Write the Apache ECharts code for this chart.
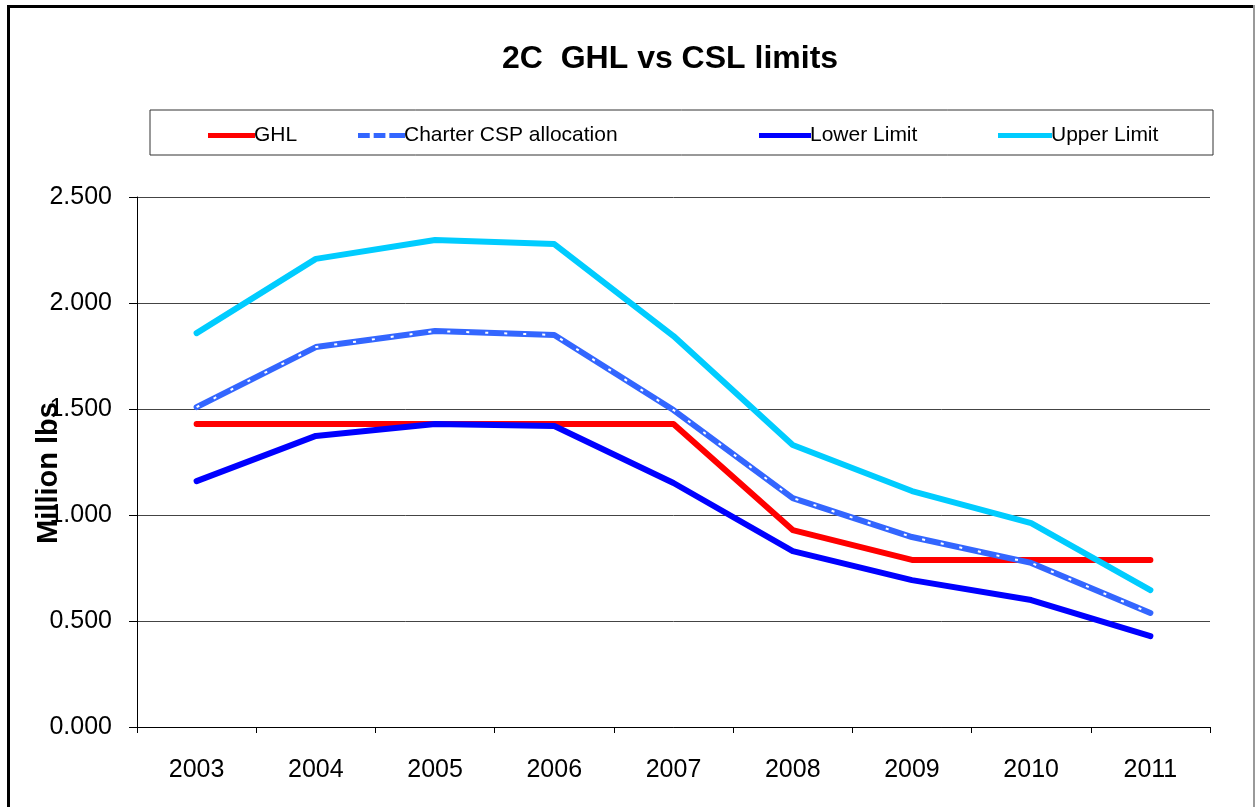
<!DOCTYPE html>
<html>
<head>
<meta charset="utf-8">
<script src="https://cdn.jsdelivr.net/npm/echarts@6/dist/echarts.min.js"></script>
<style>
html,body{margin:0;padding:0;background:#fff;}
#c{width:1255px;height:807px;}
</style>
</head>
<body>
<div id="c"></div>
<script>
const years = ['2003','2004','2005','2006','2007','2008','2009','2010','2011'];
const ghl = [1.429,1.429,1.429,1.429,1.429,0.929,0.788,0.788,0.788];
const charter = [1.509,1.792,1.868,1.849,1.495,1.080,0.896,0.774,0.538];
const lower = [1.160,1.373,1.429,1.420,1.151,0.830,0.693,0.599,0.429];
const upper = [1.858,2.208,2.297,2.278,1.844,1.330,1.113,0.962,0.646];

const chart = echarts.init(document.getElementById('c'));
const font = 'Liberation Sans, Arial, sans-serif';
function leg(name, left, icon, w){
  return {
    data:[name], left:left, top:120, itemWidth:w, itemHeight:5, itemGap:0,
    icon:icon,
    textStyle:{fontFamily:font,fontSize:21,color:'#000',padding:[0,0,0,-6]},
    selectedMode:false
  };
}
const dashIcon = 'path://M0,0h12v5h-12z M16,0h12v5h-12z M32,0h16v5h-16z';
chart.setOption({
  animation:false,
  backgroundColor:'#fff',
  title:{text:'2C  GHL vs CSL limits', left:497, top:38,
    textStyle:{fontFamily:font,fontSize:32,fontWeight:'bold',color:'#000'}},
  graphic:[
    {type:'rect', shape:{x:150,y:110,width:1063,height:45}, style:{fill:'none',stroke:'#333',lineWidth:1}},
    {type:'rect', shape:{x:7,y:5,width:1255,height:3}, style:{fill:'#000'}},
    {type:'rect', shape:{x:7,y:5,width:3,height:810}, style:{fill:'#000'}},
    {type:'rect', shape:{x:1253,y:5,width:2,height:810}, style:{fill:'#999'}}
  ],
  legend:[
    leg('GHL',203,'rect',47),
    leg('Charter CSP allocation',353,dashIcon,47),
    leg('Lower Limit',754,'rect',52),
    leg('Upper Limit',993,'rect',54)
  ],
  grid:{left:137,right:45,top:197,bottom:80,containLabel:false},
  xAxis:{type:'category',data:years,boundaryGap:true,
    axisLine:{lineStyle:{color:'#000',width:1}},
    axisTick:{show:true,length:6,lineStyle:{color:'#000'}},
    axisLabel:{fontFamily:font,fontSize:25,color:'#000',margin:31},
    splitLine:{show:false}},
  yAxis:{type:'value',min:0,max:2.5,interval:0.5,
    name:'Million lbs',nameLocation:'middle',nameGap:74,nameRotate:90,nameMoveOverlap:false,
    nameTextStyle:{fontFamily:font,fontSize:29,fontWeight:'bold',color:'#000',padding:[0,22,0,0]},
    axisLine:{show:true,lineStyle:{color:'#000',width:1}},
    axisTick:{show:true,length:8,lineStyle:{color:'#000'}},
    axisLabel:{fontFamily:font,fontSize:25,color:'#000',margin:25,formatter:v=>v.toFixed(3)},
    splitLine:{show:true,lineStyle:{color:'#444',width:1}}},
  series:[
    {name:'GHL',type:'line',data:ghl,symbol:'none',
      lineStyle:{color:'#FF0000',width:6,cap:'round',join:'round'},itemStyle:{color:'#FF0000'}},
    {name:'Charter CSP allocation',type:'line',data:charter,symbol:'none',
      lineStyle:{color:'#3366FF',width:6,cap:'round',join:'round'},itemStyle:{color:'#3366FF'}},
    {name:'_charterDots',type:'line',data:charter,symbol:'none',silent:true,
      lineStyle:{color:'#FFFFFF',width:2,type:[3,16]},itemStyle:{color:'#fff'}},
    {name:'Lower Limit',type:'line',data:lower,symbol:'none',
      lineStyle:{color:'#0000FF',width:6,cap:'round',join:'round'},itemStyle:{color:'#0000FF'}},
    {name:'Upper Limit',type:'line',data:upper,symbol:'none',
      lineStyle:{color:'#00CCFF',width:6,cap:'round',join:'round'},itemStyle:{color:'#00CCFF'}}
  ]
});
</script>
</body>
</html>
